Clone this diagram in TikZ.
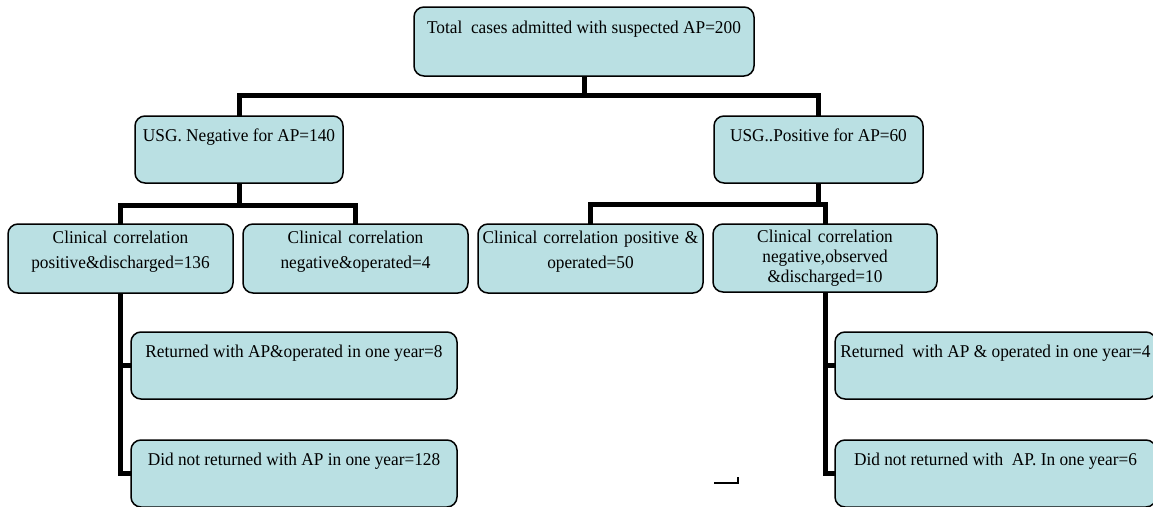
\documentclass[tikz,border=0pt]{standalone}
\usepackage{fontspec}
\setmainfont{Liberation Serif}[FakeStretch=0.96]
\usepackage{tikz}
\definecolor{boxfill}{RGB}{186,224,227}

\begin{document}
\begin{tikzpicture}[
    x=1pt, y=-1pt,
    box/.style={rectangle, draw=black, fill=boxfill, line width=1.5pt, rounded corners=10pt, anchor=north west, inner xsep=0pt, inner ysep=0pt, outer sep=0pt, align=center, font=\fontsize{18}{25}\selectfont},
    one/.style={text height=25pt, text depth=42pt},
    two/.style={text height=19pt, text depth=50pt},
    conn/.style={line width=5pt, draw=black}
]
    \useasboundingbox (0,0) rectangle (1153,506);

    \node [box, minimum width=340pt, text height=26pt, text depth=43pt] (total) at (414,7) {Total\ \ cases admitted with suspected AP=200};

    \node [box, one, minimum width=208pt] (usgneg) at (135,116) {USG. Negative for AP=140};
    \node [box, one, minimum width=209pt] (usgpos) at (714,116) {USG..Positive for AP=60};

    \node [box, two, text width=225pt] (cpos) at (8,224) {Clinical correlation\\positive\&discharged=136};
    \node [box, two, text width=225pt] (cneg) at (243,224) {Clinical correlation\\negative\&operated=4};
    \node [box, two, text width=225pt] (cpo) at (478,224) {Clinical correlation positive \&\\operated=50};
    \node [box, two, text width=224pt, text height=18pt, font=\fontsize{18}{20}\selectfont] (cno) at (713,224) {Clinical correlation\\negative,observed\\\&discharged=10};

    \node [box, one, minimum width=326pt] (ret8) at (131,332) {Returned with AP\&operated in one year=8};
    \node [box, one, minimum width=326pt] (nret128) at (131,440) {Did not returned with AP in one year=128};
    \node [box, one, minimum width=321pt] (ret4) at (835,332) {Returned\ \ with AP \& operated in one year=4};
    \node [box, one, minimum width=321pt] (nret6) at (835,440) {Did not returned with\ \ AP. In one year=6};

    % tree lines
    \draw [conn] (total.south) -- ++(0,19) -| (usgneg.north);
    \draw [conn] (total.south) -- ++(0,19) -| (usgpos.north);
    \draw [conn] (usgneg.south) -- ++(0,22) -| (cpos.north);
    \draw [conn] (usgneg.south) -- ++(0,22) -| (cneg.north);
    \draw [conn] (usgpos.south) -- ++(0,21) -| (cpo.north);
    \draw [conn] (usgpos.south) -- ++(0,21) -| (cno.north);
    \draw [conn] (cpos.south) |- (ret8.west);
    \draw [conn] (cpos.south) |- (nret128.west);
    \draw [conn] (cno.south) |- (ret4.west);
    \draw [conn] (cno.south) |- (nret6.west);

    \draw [line width=2pt] (714,483) -- (738,483) -- (738,477);
\end{tikzpicture}
\end{document}
